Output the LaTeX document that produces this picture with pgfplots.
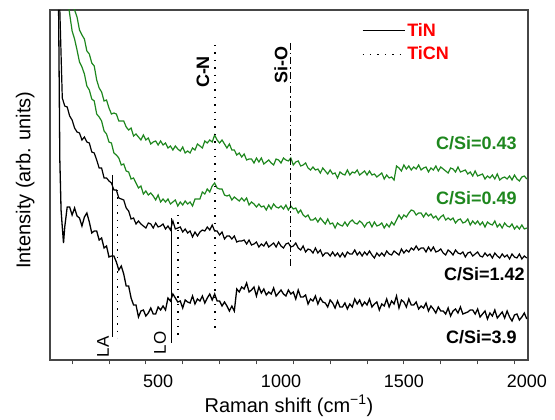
\documentclass[border=0pt]{standalone}
\usepackage{pgfplots}
\pgfplotsset{compat=1.18}
\usepackage{fontspec}
\setmainfont{Liberation Sans}
\definecolor{cgreen}{RGB}{30,135,30}
\definecolor{cframe}{RGB}{70,70,70}
\begin{document}
\begin{tikzpicture}
\useasboundingbox (-50pt,-60pt) rectangle (505pt,360pt);
\begin{axis}[
 at={(0pt,0pt)}, anchor=south west,
 scale only axis, width=478pt, height=350pt,
 xmin=60, xmax=2005, ymin=0, ymax=350,
 axis line style={cframe, line width=1.1pt},
 xtick={500,1000,1500,2000},
 minor xtick={150,300,...,1950},
 major tick length=0pt, minor tick length=4.5pt,
 tick style={cframe, line width=0.9pt},
 tick align=outside, xtick pos=bottom,
 ytick=\empty,
 /pgf/number format/assume math mode=true,
 /pgf/number format/1000 sep={},
 tick label style={font=\fontsize{18}{20}\selectfont},
 xticklabel style={anchor=base, yshift=-28pt},
 xlabel={Raman shift (cm\textsuperscript{−1})},
 xlabel style={at={(axis description cs:0.50,-0.150)}, anchor=base, font=\fontsize{20}{22}\selectfont},
 ylabel={Intensity (arb. units)},
 ylabel style={at={(axis description cs:-0.052,0.514)}, anchor=center, font=\fontsize{20}{22}\selectfont},
 legend style={at={(axis description cs:0.652,0.968)}, anchor=north west, draw=none, fill=none,
   font=\fontsize{18}{20}\selectfont\bfseries, text=red, row sep=5pt, inner sep=0pt},
 legend cell align=left,
 legend image code/.code={\draw[#1] (0pt,0pt) -- (42pt,0pt);},
]
\addlegendimage{black, line width=0.9pt}
\addlegendentry{TiN}
\addlegendimage{black, line width=1.4pt, dash pattern=on 1.4pt off 6pt}
\addlegendentry{TiCN}

% C/Si = 0.43
\addplot[cgreen, line width=1.2pt, forget plot] coordinates {
(150,364)(160,350)(170,343)(180,330)(190,325)(200,321)(210,309)(220,306)(230,297)(240,294)
(250,280)(260,272)(270,268)(280,259)(290,260)(300,252)(310,246)(320,247)(330,246)(340,239)
(350,239)(360,239)(370,233)(380,230)(390,232)(400,224)(410,226)(420,223)(430,220)(440,225)
(450,220)(460,222)(470,216)(480,218)(490,219)(500,215)(510,219)(520,215)(530,217)(540,212)
(550,214)(560,210)(570,214)(580,211)(590,209)(600,213)(610,207)(620,209)(630,207)(640,212)
(650,210)(660,216)(670,214)(680,212)(690,219)(700,217)(710,220)(720,218)(730,225)(740,220)
(750,217)(760,220)(770,216)(780,212)(790,216)(800,210)(810,210)(820,205)(830,207)(840,203)
(850,206)(860,200)(870,201)(880,201)(890,197)(900,202)(910,198)(920,202)(930,196)(940,198)
(950,200)(960,197)(970,195)(980,201)(990,200)(1000,197)(1010,202)(1020,200)(1030,199)(1040,202)
(1050,195)(1060,198)(1070,199)(1080,194)(1090,195)(1100,197)(1110,192)(1120,190)(1130,193)(1140,190)
(1150,191)(1160,187)(1170,192)(1180,189)(1190,186)(1200,190)(1210,186)(1220,187)(1230,182)(1240,188)
(1250,186)(1260,185)(1270,190)(1280,185)(1290,188)(1300,187)(1310,190)(1320,185)(1330,187)(1340,189)
(1350,185)(1360,189)(1370,185)(1380,186)(1390,183)(1400,185)(1410,187)(1420,181)(1430,185)(1440,182)
(1450,183)(1460,180)(1470,194)(1480,192)(1490,189)(1500,195)(1510,191)(1520,194)(1530,190)(1540,193)
(1550,191)(1560,195)(1570,190)(1580,192)(1590,193)(1600,188)(1610,192)(1620,190)(1630,194)(1640,189)
(1650,193)(1660,191)(1670,189)(1680,187)(1690,192)(1700,191)(1710,188)(1720,193)(1730,188)(1740,189)
(1750,190)(1760,186)(1770,188)(1780,184)(1790,189)(1800,184)(1810,185)(1820,186)(1830,181)(1840,184)
(1850,182)(1860,185)(1870,181)(1880,186)(1890,180)(1900,182)(1910,183)(1920,181)(1930,184)(1940,180)
(1950,185)(1960,181)(1970,179)(1980,183)(1990,184)(2000,181)};

% C/Si = 0.49
\addplot[cgreen, line width=1.2pt, forget plot] coordinates {
(130,365)(140,346)(150,329)(160,321)(170,310)(180,298)(190,293)(200,286)(210,274)(220,270)
(230,261)(240,259)(250,246)(260,243)(270,239)(280,229)(290,226)(300,218)(310,217)(320,207)
(330,205)(340,202)(350,195)(360,196)(370,189)(380,188)(390,181)(400,182)(410,177)(420,172)
(430,174)(440,166)(450,169)(460,165)(470,167)(480,164)(490,160)(500,165)(510,158)(520,161)
(530,158)(540,161)(550,156)(560,158)(570,160)(580,154)(590,158)(600,155)(610,159)(620,156)
(630,158)(640,154)(650,161)(660,161)(670,161)(680,168)(690,166)(700,171)(710,168)(720,174)
(730,177)(740,172)(750,171)(760,171)(770,165)(780,164)(790,165)(800,160)(810,163)(820,161)
(830,159)(840,162)(850,159)(860,162)(870,155)(880,158)(890,156)(900,153)(910,156)(920,153)
(930,154)(940,150)(950,155)(960,151)(970,156)(980,153)(990,152)(1000,154)(1010,151)(1020,155)
(1030,150)(1040,154)(1050,151)(1060,152)(1070,147)(1080,150)(1090,145)(1100,143)(1110,145)(1120,140)
(1130,140)(1140,142)(1150,138)(1160,142)(1170,139)(1180,136)(1190,141)(1200,136)(1210,137)(1220,132)
(1230,137)(1240,135)(1250,134)(1260,138)(1270,134)(1280,138)(1290,140)(1300,137)(1310,136)(1320,139)
(1330,137)(1340,133)(1350,137)(1360,138)(1370,133)(1380,138)(1390,134)(1400,135)(1410,137)(1420,132)
(1430,136)(1440,133)(1450,138)(1460,135)(1470,140)(1480,145)(1490,141)(1500,145)(1510,143)(1520,147)
(1530,150)(1540,149)(1550,145)(1560,147)(1570,147)(1580,143)(1590,147)(1600,144)(1610,146)(1620,142)
(1630,144)(1640,140)(1650,143)(1660,145)(1670,140)(1680,142)(1690,140)(1700,142)(1710,137)(1720,140)
(1730,141)(1740,137)(1750,138)(1760,141)(1770,135)(1780,139)(1790,136)(1800,139)(1810,135)(1820,138)
(1830,133)(1840,138)(1850,136)(1860,135)(1870,139)(1880,133)(1890,136)(1900,132)(1910,137)(1920,134)
(1930,133)(1940,136)(1950,131)(1960,134)(1970,131)(1980,135)(1990,131)(2000,132)};

% C/Si = 1.42
\addplot[black, line width=1.2pt, forget plot] coordinates {
(100,350)(110,262)(120,254)(130,253)(140,244)(150,240)(160,232)(170,228)(180,227)(190,220)
(200,223)(210,218)(220,217)(230,208)(240,207)(250,200)(260,192)(270,192)(280,182)(290,182)
(300,179)(310,177)(320,170)(330,170)(340,162)(350,161)(360,160)(370,152)(380,149)(390,141)
(400,142)(410,136)(420,139)(430,136)(440,134)(450,132)(460,137)(470,136)(480,132)(490,137)
(500,133)(510,134)(520,136)(530,131)(540,134)(550,130)(560,139)(570,131)(580,132)(590,133)
(600,128)(610,131)(620,127)(630,129)(640,123)(650,128)(660,124)(670,128)(680,130)(690,129)
(700,133)(710,130)(720,135)(730,129)(740,129)(750,125)(760,128)(770,121)(780,124)(790,124)
(800,121)(810,124)(820,118)(830,119)(840,119)(850,120)(860,116)(870,120)(880,115)(890,116)
(900,118)(910,113)(920,116)(930,114)(940,118)(950,113)(960,115)(970,117)(980,113)(990,118)
(1000,114)(1010,112)(1020,116)(1030,117)(1040,113)(1050,114)(1060,117)(1070,112)(1080,110)(1090,114)
(1100,108)(1110,111)(1120,110)(1130,107)(1140,112)(1150,107)(1160,110)(1170,104)(1180,107)(1190,107)
(1200,104)(1210,108)(1220,104)(1230,107)(1240,103)(1250,107)(1260,103)(1270,108)(1280,106)(1290,106)
(1300,110)(1310,105)(1320,108)(1330,104)(1340,108)(1350,105)(1360,109)(1370,105)(1380,102)(1390,107)
(1400,104)(1410,107)(1420,104)(1430,109)(1440,106)(1450,105)(1460,109)(1470,107)(1480,105)(1490,111)
(1500,107)(1510,110)(1520,108)(1530,112)(1540,110)(1550,114)(1560,110)(1570,112)(1580,112)(1590,108)
(1600,113)(1610,109)(1620,113)(1630,108)(1640,109)(1650,111)(1660,107)(1670,105)(1680,110)(1690,108)
(1700,105)(1710,110)(1720,107)(1730,106)(1740,108)(1750,103)(1760,107)(1770,108)(1780,104)(1790,106)
(1800,108)(1810,104)(1820,103)(1830,107)(1840,104)(1850,106)(1860,102)(1870,107)(1880,104)(1890,102)
(1900,106)(1910,103)(1920,105)(1930,101)(1940,106)(1950,103)(1960,102)(1970,106)(1980,101)(1990,104)
(2000,102)};

% C/Si = 3.9
\addplot[black, line width=1.3pt, forget plot] coordinates {
(95,350)(100,200)(105,150)(110,133)(115,117)(120,133)(130,153)(140,153)(150,145)(160,152)
(170,144)(180,142)(190,134)(200,143)(210,147)(220,138)(230,127)(240,129)(250,129)(260,120)
(270,122)(280,112)(290,114)(300,103)(310,104)(320,104)(330,98)(340,90)(350,94)(360,86)
(370,74)(380,74)(390,62)(400,55)(410,55)(420,43)(430,49)(440,50)(450,44)(460,47)
(470,52)(480,46)(490,46)(500,53)(510,50)(520,54)(530,50)(540,62)(550,59)(560,66)
(570,62)(580,58)(590,59)(600,52)(610,60)(620,58)(630,57)(640,64)(650,56)(660,61)
(670,59)(680,64)(690,57)(700,62)(710,66)(720,60)(730,66)(740,59)(750,59)(760,54)
(770,58)(780,54)(790,49)(800,54)(810,49)(820,71)(830,68)(840,73)(850,71)(860,77)
(870,68)(880,70)(890,73)(900,64)(910,73)(920,67)(930,71)(940,65)(950,68)(960,66)
(970,72)(980,64)(990,67)(1000,70)(1010,66)(1020,64)(1030,70)(1040,66)(1050,68)(1060,61)
(1070,70)(1080,63)(1090,63)(1100,65)(1110,56)(1120,61)(1130,59)(1140,64)(1150,56)(1160,62)
(1170,58)(1180,57)(1190,53)(1200,60)(1210,57)(1220,52)(1230,59)(1240,53)(1250,53)(1260,57)
(1270,51)(1280,56)(1290,53)(1300,61)(1310,56)(1320,60)(1330,54)(1340,58)(1350,55)(1360,61)
(1370,53)(1380,56)(1390,58)(1400,50)(1410,56)(1420,54)(1430,61)(1440,53)(1450,59)(1460,56)
(1470,64)(1480,52)(1490,60)(1500,58)(1510,53)(1520,61)(1530,55)(1540,55)(1550,58)(1560,51)
(1570,54)(1580,52)(1590,57)(1600,49)(1610,54)(1620,51)(1630,47)(1640,53)(1650,49)(1660,49)
(1670,46)(1680,52)(1690,44)(1700,49)(1710,51)(1720,47)(1730,53)(1740,46)(1750,47)(1760,48)
(1770,50)(1780,50)(1790,46)(1800,51)(1810,43)(1820,46)(1830,49)(1840,41)(1850,47)(1860,44)
(1870,50)(1880,42)(1890,45)(1900,48)(1910,42)(1920,49)(1930,43)(1940,39)(1950,45)(1960,46)
(1970,40)(1980,43)(1990,47)(2000,41)};

% reference lines
\addplot[black, line width=0.9pt, forget plot] coordinates {(315,185)(315,23)};
\addplot[black, line width=0.9pt, forget plot] coordinates {(556,142)(556,17)};
\addplot[black, line width=1.4pt, dash pattern=on 1.4pt off 6pt, forget plot] coordinates {(334,170)(334,22)};
\addplot[black, line width=1.4pt, dash pattern=on 1.4pt off 6pt, forget plot] coordinates {(581,145)(581,20)};
\addplot[black, line width=1.4pt, dash pattern=on 1.4pt off 6pt, forget plot] coordinates {(731,315)(731,27)};
\addplot[black, line width=1.1pt, dash pattern=on 7pt off 3pt on 1.4pt off 3pt, forget plot] coordinates {(1040,317)(1040,93)};

\node[rotate=90, font=\fontsize{18}{20}\selectfont\bfseries] at (axis cs:682,288) {C-N};
\node[rotate=90, font=\fontsize{18}{20}\selectfont\bfseries] at (axis cs:1000,295) {Si-O};
\node[rotate=90, font=\fontsize{17}{19}\selectfont] at (axis cs:276,13) {LA};
\node[rotate=90, font=\fontsize{17}{19}\selectfont] at (axis cs:508,17) {LO};

\node[anchor=east, inner sep=0pt, text=cgreen, font=\fontsize{18}{20}\selectfont\bfseries] at (axis cs:1960,217) {C/Si=0.43};
\node[anchor=east, inner sep=0pt, text=cgreen, font=\fontsize{18}{20}\selectfont\bfseries] at (axis cs:1960,162) {C/Si=0.49};
\node[anchor=east, inner sep=0pt, font=\fontsize{18}{20}\selectfont\bfseries] at (axis cs:1992,86) {C/Si=1.42};
\node[anchor=east, inner sep=0pt, font=\fontsize{18}{20}\selectfont\bfseries] at (axis cs:1960,23) {C/Si=3.9};
\end{axis}
\end{tikzpicture}
\end{document}
